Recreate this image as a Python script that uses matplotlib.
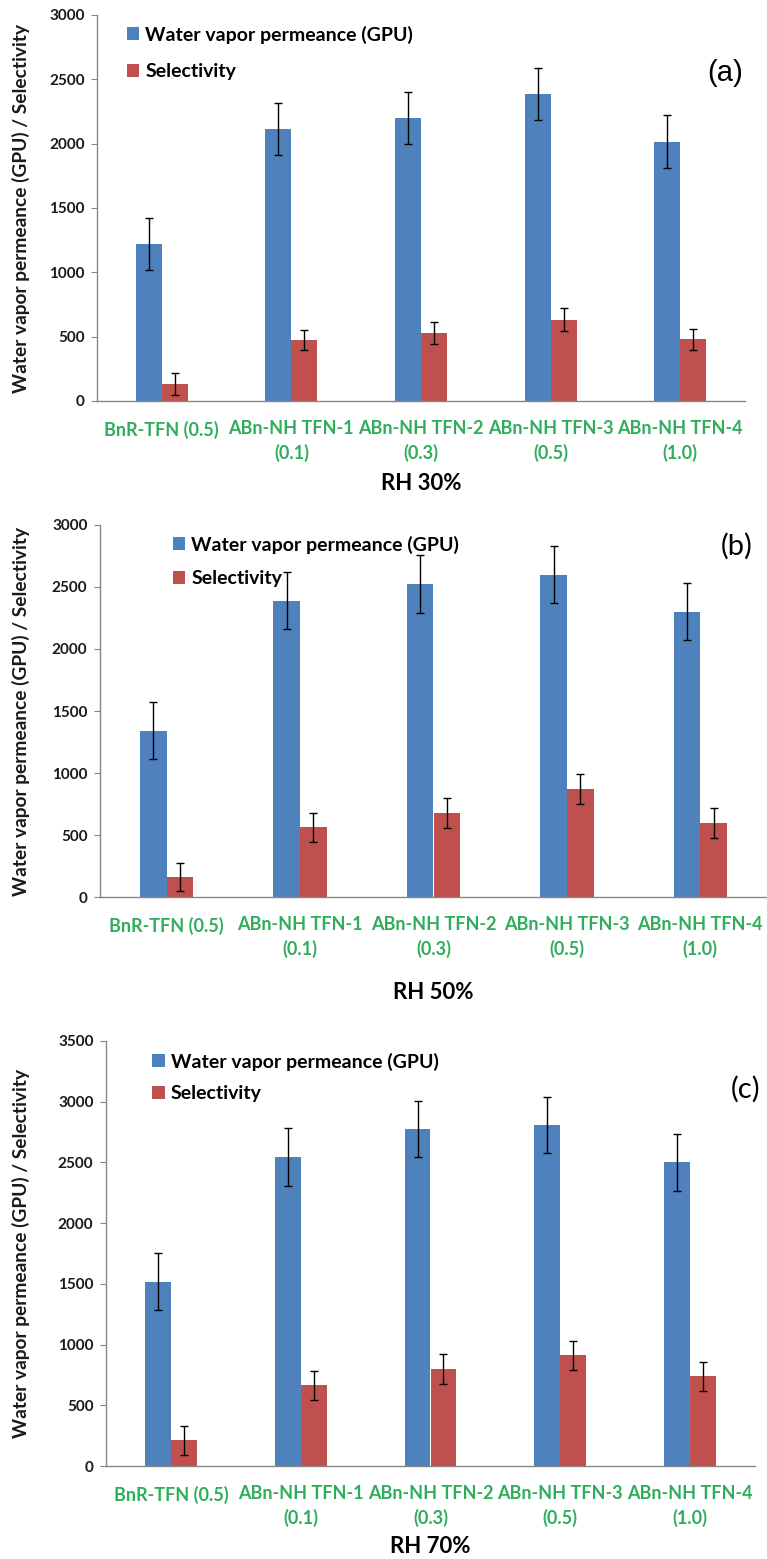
import matplotlib
matplotlib.use("Agg")
import matplotlib.pyplot as plt
import numpy as np

categories = ["BnR-TFN (0.5)", "ABn-NH TFN-1\n(0.1)", "ABn-NH TFN-2\n(0.3)",
              "ABn-NH TFN-3\n(0.5)", "ABn-NH TFN-4\n(1.0)"]

perm_30 = [1220, 2115, 2200, 2385, 2015]
perm_30_err = [200, 200, 200, 200, 205]
sel_30 = [135, 475, 530, 632, 478]
sel_30_err = [85, 80, 85, 88, 85]

perm_50 = [1340, 2390, 2525, 2600, 2302]
perm_50_err = [230, 232, 232, 232, 232]
sel_50 = [163, 562, 678, 870, 597]
sel_50_err = [115, 118, 120, 118, 118]

perm_70 = [1518, 2545, 2775, 2808, 2502]
perm_70_err = [236, 236, 229, 233, 235]
sel_70 = [212, 665, 798, 912, 738]
sel_70_err = [121, 120, 122, 121, 120]

rh_labels = ["RH 30%", "RH 50%", "RH 70%"]
panel_labels = ["(a)", "(b)", "(c)"]
ymaxes = [3000, 3000, 3500]
legend_labels = ["Water vapor permeance (GPU)", "Selectivity"]

BLUE = "#4F81BD"
RED = "#C0504D"
GREEN = "#2EAD5B"
GRAY = "#868686"
FONT = "Lato"

W, H = 767, 1559
fig = plt.figure(figsize=(W / 100, H / 100), dpi=100)

# axes rectangles in pixels: left, right, top(ymax), bottom(0)
rects = [(97, 745, 15, 401), (100, 767, 525, 897), (106, 755, 1041, 1466)]
legend_pos = [(0.046, 0.973, 1.0), (0.109, 0.972, 0.84), (0.071, 0.973, 0.74)]
plabel_pos = [(0.969, 0.85, "Liberation Sans"), (0.954, 0.944, FONT), (0.985, 0.887, FONT)]
rh_y = [-0.215, -0.258, -0.19]

data = [(perm_30, perm_30_err, sel_30, sel_30_err),
        (perm_50, perm_50_err, sel_50, sel_50_err),
        (perm_70, perm_70_err, sel_70, sel_70_err)]

x = np.arange(len(categories))
bw = 0.2
for i, (l, r, t, b) in enumerate(rects):
    ax = fig.add_axes([l / W, 1 - b / H, (r - l) / W, (b - t) / H])
    perm, perm_err, sel, sel_err = data[i]
    ekw = dict(ecolor="black", elinewidth=1.0, capthick=1.0)
    ax.bar(x - bw / 2, perm, bw, color=BLUE, yerr=perm_err, capsize=3,
           error_kw=ekw, label=legend_labels[0])
    ax.bar(x + bw / 2, sel, bw, color=RED, yerr=sel_err, capsize=3,
           error_kw=ekw, label=legend_labels[1])
    ax.set_xlim(-0.5, len(categories) - 0.5)
    ax.set_ylim(0, ymaxes[i])
    ax.set_yticks(np.arange(0, ymaxes[i] + 1, 500))
    for s in ["top", "right"]:
        ax.spines[s].set_visible(False)
    for s in ["left", "bottom"]:
        ax.spines[s].set_color(GRAY)
        ax.spines[s].set_linewidth(1.0)
    ax.tick_params(axis="y", direction="out", length=4, color=GRAY, width=0.8,
                   labelsize=11, pad=5, labelcolor="#1a1a1a")
    for lab in ax.get_yticklabels():
        lab.set_fontfamily(FONT)
        lab.set_fontweight("bold")
    ax.set_xticks(x)
    ax.set_xticklabels(categories, fontfamily=FONT, fontweight="bold",
                       fontsize=13.0, color=GREEN, linespacing=1.45)
    ax.tick_params(axis="x", length=0, pad=14)
    lx = (21 - l) / (r - l)
    ax.text(lx, 0.5, "Water vapor permeance (GPU) / Selectivity", rotation=90,
            ha="center", va="center", transform=ax.transAxes, fontfamily=FONT,
            fontweight="bold", fontsize=13.8, color="#1a1a1a")
    ax.text(0.5, rh_y[i], rh_labels[i], ha="center", va="center",
            transform=ax.transAxes, fontfamily=FONT, fontweight="bold",
            fontsize=16, color="black")
    px, py, pf = plabel_pos[i]
    ax.text(px, py, panel_labels[i], ha="center", va="center",
            transform=ax.transAxes, fontfamily=pf, fontsize=21, color="black")
    lgx, lgy, lsp = legend_pos[i]
    leg = ax.legend(loc="upper left", bbox_to_anchor=(lgx, lgy), frameon=False,
                    borderpad=0, borderaxespad=0, handlelength=0.65,
                    handleheight=0.65, handletextpad=0.3, labelspacing=lsp,
                    prop=dict(family=FONT, weight="bold", size=14))

fig.savefig("out.png", dpi=100)
